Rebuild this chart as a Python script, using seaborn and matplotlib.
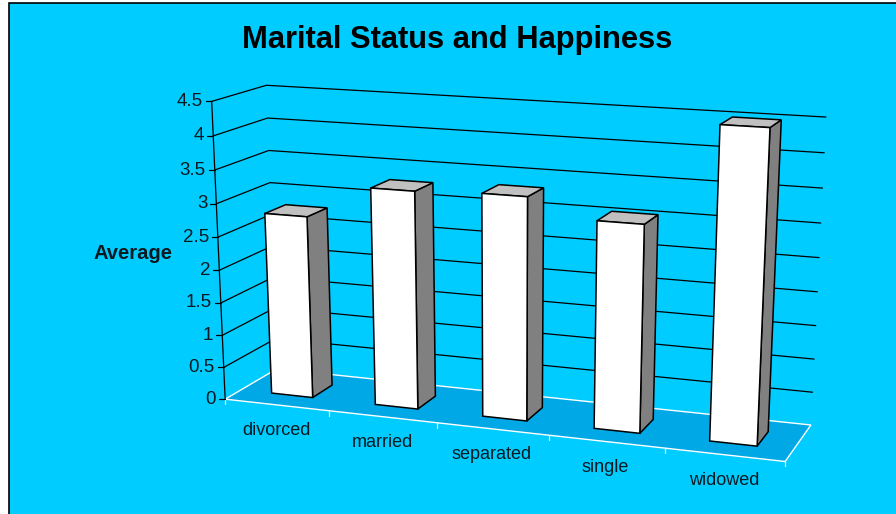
import numpy as np
import seaborn as sns
import matplotlib.pyplot as plt
from matplotlib.patches import Polygon
from matplotlib.transforms import Transform

categories = ["divorced", "married", "separated", "single", "widowed"]
values = [2.79, 3.29, 3.33, 3.06, 4.51]
y_ticks = [0, 0.5, 1, 1.5, 2, 2.5, 3, 3.5, 4, 4.5]
y_labels = ["0", "0.5", "1", "1.5", "2", "2.5", "3", "3.5", "4", "4.5"]

BG = "#00CCFF"
FLOOR = "#00A8E6"
BAR_DEPTH = (0.3, 0.7)  # depth of front and back face, floor runs 0..1

# camera: (category x, depth, value) -> pixel, fitted on the plot box corners
box = [(-0.5, 0, 0), (4.5, 0, 0), (4.5, 1, 0), (-0.5, 1, 0),
       (-0.5, 0, 4.5), (-0.5, 1, 4.5), (4.5, 1, 4.5)]
pix_pts = [(225, 400), (785, 461), (811, 425.5), (277, 368),
           (212, 101), (266, 85.7), (826, 117)]
A, b = [], []
for (x, d, v), (u, w) in zip(box, pix_pts):
    A.append([x, d, v, 1, 0, 0, 0, 0, -u * x, -u * d, -u * v])
    A.append([0, 0, 0, 0, x, d, v, 1, -w * x, -w * d, -w * v])
    b += [u, w]
cam = np.append(np.linalg.lstsq(np.array(A), np.array(b), rcond=None)[0], 1).reshape(3, 4)


def project(x, d, v):
    x, d, v = np.broadcast_arrays(np.asarray(x, float), np.asarray(d, float), np.asarray(v, float))
    p = cam @ np.stack([x, d, v, np.ones_like(x)])
    return p[0] / p[2], p[1] / p[2]


sns.set_theme(style="white")
plt.rcParams["font.family"] = ["Liberation Sans", "DejaVu Sans"]
text_col = "#0a1a22"

fig = plt.figure(figsize=(8.96, 5.14), dpi=100, facecolor="white")

# pixel layer for the box, floor, labels
pix = fig.add_axes([0, 0, 1, 1])
pix.set_xlim(0, 896)
pix.set_ylim(514, 0)
pix.axis("off")
pix.add_patch(Polygon([(8.5, 2.5), (898, 2.5), (898, 516), (8.5, 516)], fc=BG, ec="black", lw=1.2))


class BarSpace(Transform):
    # maps the bar axes (x, value) onto a plane at fixed depth
    input_dims = 2
    output_dims = 2

    def __init__(self, plane):
        super().__init__()
        self.plane = plane

    def transform_non_affine(self, values):
        px, py = project(values[:, 0], self.plane, values[:, 1])
        return pix.transData.transform(np.column_stack([px, py]))

    def transform_path_non_affine(self, path):
        return type(path)(self.transform_non_affine(path.vertices), path.codes)


# floor
corners = [(-0.5, 0), (4.5, 0), (4.5, 1), (-0.5, 1)]
floor_xy = [tuple(float(c) for c in project(x, d, 0)) for x, d in corners]
pix.add_patch(Polygon(floor_xy, fc=FLOOR, ec="white", lw=1.0, zorder=1))
for i in range(6):
    u, w = project(i - 0.5, 0, 0)
    pix.plot([u, u], [w, w + 5], color="#e8f8ff", lw=0.9, zorder=1)

# walls
for t in y_ticks:
    u0, w0 = project(-0.5, 0, t)
    pix.plot([u0 - 6, u0], [w0, w0], color="black", lw=0.9, zorder=2)
    if t > 0:
        u1, w1 = project(-0.5, 1, t)
        u2, w2 = project(4.5, 1, t)
        pix.plot([u0, u1, u2], [w0, w1, w2], color="black", lw=0.9, zorder=2)
ua, wa = project([-0.5, -0.5], 0, [0, 4.5])
pix.plot(ua, wa, color="black", lw=0.9, zorder=2)

# bars
ax = fig.add_axes([0, 0, 1, 1], zorder=3)
sns.barplot(x=categories, y=values, color="white", saturation=1, width=0.4,
            edgecolor="black", linewidth=1.1, ax=ax)
ax.set_xlim(-0.5, 4.5)
ax.set_ylim(0, 4.5)
ax.axis("off")
d0, d1 = BAR_DEPTH
for bar in ax.patches:
    bar.set_transform(BarSpace(d0))
    bar.set_clip_on(False)
    bar.set_zorder(5)
    x0, x1 = bar.get_x(), bar.get_x() + bar.get_width()
    h = bar.get_height()
    side = [project(x1, d0, 0), project(x1, d1, 0), project(x1, d1, h), project(x1, d0, h)]
    top = [project(x0, d0, h), project(x1, d0, h), project(x1, d1, h), project(x0, d1, h)]
    pix.add_patch(Polygon(np.array(side, float), fc="#808080", ec="black", lw=1.1, zorder=4))
    pix.add_patch(Polygon(np.array(top, float), fc="#C0C0C0", ec="black", lw=1.1, zorder=4))

# text
for t, lab in zip(y_ticks, y_labels):
    u, w = project(-0.5, 0, t)
    pix.text(u - 9, w, lab, ha="right", va="center", fontsize=13.5, color=text_col)
for i, lab in enumerate(categories):
    u, w = project(i, 0, 0)
    pix.text(u - 0.5, w + 25.5, lab, ha="center", va="center", fontsize=13, color=text_col)
pix.text(132.5, 253.5, "Average", ha="center", va="center", fontsize=14.5, fontweight="bold", color=text_col)
pix.text(457.5, 40, "Marital Status and Happiness", ha="center", va="center",
         fontsize=22.2, fontweight="bold", color="black")

fig.savefig("out.png", dpi=100, facecolor="white")
